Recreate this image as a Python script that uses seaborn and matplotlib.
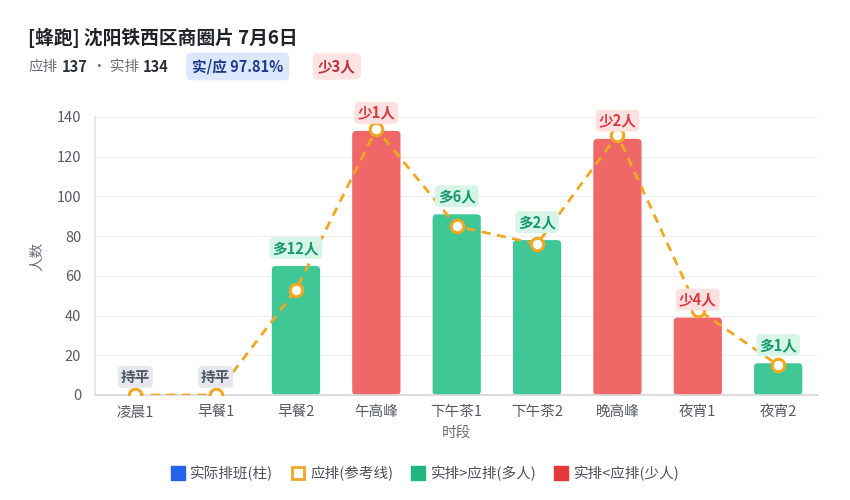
import numpy as np
import matplotlib
matplotlib.use("Agg")
import matplotlib.pyplot as plt
import seaborn as sns
from matplotlib.patches import FancyBboxPatch
from matplotlib.lines import Line2D

slots = ["凌晨1", "早餐1", "早餐2", "午高峰", "下午茶1", "下午茶2", "晚高峰", "夜宵1", "夜宵2"]
actual = [0, 0, 65, 133, 91, 78, 129, 39, 16]
expected = [0, 0, 53, 134, 85, 76, 131, 43, 15]
yticks = [0, 20, 40, 60, 80, 100, 120, 140]

title = "[蜂跑] 沈阳铁西区商圈片 7月6日"
total_exp = 137
total_act = 134
ratio_txt = "实/应 97.81%"
gap_txt = "少3人"

GREEN = "#3fc795"
RED = "#ef6767"
ORANGE = "#f0a722"

sns.set_theme(style="white")
plt.rcParams["font.family"] = ["Noto Sans CJK SC", "DejaVu Sans"]

fig = plt.figure(figsize=(8.5, 5), dpi=100)
ax = fig.add_axes([0.1118, 0.21, 0.851, 0.556])

diff = [a - e for a, e in zip(actual, expected)]
colors = [GREEN if d >= 0 else RED for d in diff]

sns.barplot(x=slots, y=actual, hue=slots, palette=colors, legend=False,
            width=0.6, ax=ax, saturation=1, zorder=2)

# round the bar tops a little
xu = 9 / 723.0
yu = 140 / 278.0
for p in list(ax.patches):
    x0, y0 = p.get_x(), p.get_y()
    w, h = p.get_width(), p.get_height()
    fc = p.get_facecolor()
    p.remove()
    if h <= 0:
        continue
    fb = FancyBboxPatch((x0, y0), w, h,
                        boxstyle="round,pad=0,rounding_size=0.05",
                        mutation_aspect=yu / xu, fc=fc, ec="none", zorder=2)
    ax.add_patch(fb)

xs = np.arange(len(slots))
ax.plot(xs, expected, ls=(0, (3.2, 2.4)), lw=2, color=ORANGE, zorder=3)
ax.plot(xs, expected, ls="none", marker="o", ms=9, mfc="white",
        mec=ORANGE, mew=2.2, zorder=4)

for i, d in enumerate(diff):
    if d > 0:
        txt, fg, bg = f"多{d}人", "#16996a", "#d6f5e7"
    elif d < 0:
        txt, fg, bg = f"少{-d}人", "#d93a3f", "#fde1e1"
    else:
        txt, fg, bg = "持平", "#4b5563", "#e6e8ec"
    ax.annotate(txt, (i, actual[i]), xytext=(0, 13), textcoords="offset points",
                ha="center", va="center", fontsize=10.5, fontweight="bold", color=fg,
                zorder=6,
                bbox=dict(boxstyle="round,pad=0.2,rounding_size=0.3", fc=bg, ec="none"))

ax.set_xlim(-0.5, 8.5)
ax.set_ylim(0, 140)
ax.set_yticks(yticks)
ax.set_yticklabels([str(v) for v in yticks])
ax.tick_params(axis="both", length=0, colors="#555a63", labelsize=10.5)
ax.tick_params(axis="x", pad=7)
ax.tick_params(axis="y", pad=10)
ax.grid(axis="y", color="#f0f0f2", lw=0.8, zorder=0)
ax.set_axisbelow(True)
for s in ["top", "right"]:
    ax.spines[s].set_visible(False)
ax.spines["left"].set_color("#e2e4e8")
ax.spines["bottom"].set_color("#d6d8dc")
ax.set_xlabel("时段", fontsize=10.5, color="#6b7078", labelpad=5)
ax.set_ylabel("人数", fontsize=10.5, color="#6b7078", labelpad=9)

# header
fig.text(0.033, 0.924, title, fontsize=13.5, fontweight="bold", color="#1f2328",
         va="center")
fig.text(0.033, 0.867, "应排", fontsize=10.5, color="#6b7078", va="center")
fig.text(0.073, 0.867, str(total_exp), fontsize=10.5, fontweight="bold", color="#2b2f36", va="center")
fig.text(0.108, 0.867, "· 实排", fontsize=10.5, color="#6b7078", va="center")
fig.text(0.168, 0.867, str(total_act), fontsize=10.5, fontweight="bold", color="#2b2f36", va="center")
fig.text(0.226, 0.867, ratio_txt, fontsize=10.5, fontweight="bold", color="#1e3a8a", va="center",
         bbox=dict(boxstyle="round,pad=0.4,rounding_size=0.35", fc="#dbe8fb", ec="none"))
fig.text(0.374, 0.867, gap_txt, fontsize=10.5, fontweight="bold", color="#c0303a", va="center",
         bbox=dict(boxstyle="round,pad=0.35,rounding_size=0.35", fc="#fde3e3", ec="none"))

handles = [
    Line2D([], [], ls="none", marker="s", ms=10, mfc="#2563eb", mec="#2563eb"),
    Line2D([], [], ls="none", marker="s", ms=9, mfc="white", mec=ORANGE, mew=2),
    Line2D([], [], ls="none", marker="s", ms=10, mfc="#1fb67f", mec="#1fb67f"),
    Line2D([], [], ls="none", marker="s", ms=10, mfc="#e5383b", mec="#e5383b"),
]
labels = ["实际排班(柱)", "应排(参考线)", "实排>应排(多人)", "实排<应排(少人)"]
fig.legend(handles, labels, loc="center", bbox_to_anchor=(0.5, 0.054), ncol=4,
           frameon=False, fontsize=10.5, handletextpad=0.35, columnspacing=1.2,
           labelcolor="#4b5058", handlelength=1.0)

fig.savefig("out.png", dpi=100, facecolor="white")
